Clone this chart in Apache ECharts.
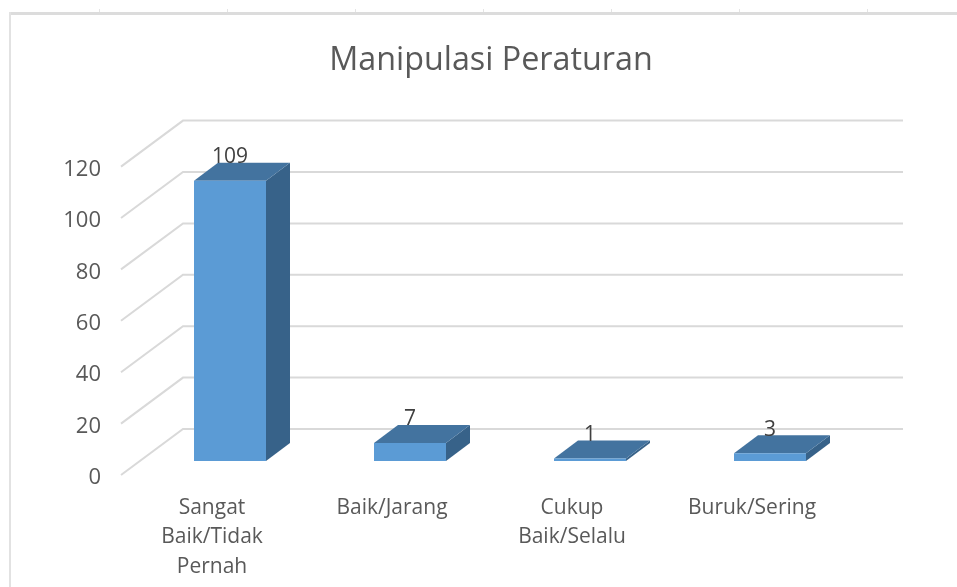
<!DOCTYPE html>
<html>
<head>
<meta charset="utf-8">
<style>html,body{margin:0;padding:0;background:#fff}#c{width:957px;height:587px}</style>
<script src="https://cdn.jsdelivr.net/npm/echarts@6/dist/echarts.min.js"></script>
</head>
<body>
<div id="c"></div>
<script>
var titleText = 'Manipulasi Peraturan';
var categories = ['Sangat\nBaik/Tidak\nPernah', 'Baik/Jarang', 'Cukup\nBaik/Selalu', 'Buruk/Sering'];
var values = [109, 7, 1, 3];
var yTicks = [0, 20, 40, 60, 80, 100, 120];

var FONT = '"Open Sans", sans-serif';
var TEXT = '#595959';
var GRID = '#d9d9d9';

var chart = echarts.init(document.getElementById('c'), null, {renderer: 'canvas'});

function renderWall(params, api) {
  var cs = params.coordSys;
  var y = api.coord([0, api.value(1)])[1];
  return {
    type: 'polyline',
    silent: true,
    shape: {points: [[cs.x - 19, y + 14], [cs.x + 43, y - 32], [cs.x + 43 + cs.width, y - 32]]},
    style: {fill: null, stroke: GRID, lineWidth: 2}
  };
}

function renderBar(params, api) {
  var top = api.coord([api.value(0), api.value(1)]);
  var base = api.coord([api.value(0), 0]);
  var w = api.size([1, 0])[0] * 0.4;
  var l = top[0] - w / 2, r = top[0] + w / 2;
  var dx = 24, dy = 18;
  return {
    type: 'group',
    children: [
      {type: 'polygon', shape: {points: [[r, top[1]], [r + dx, top[1] - dy], [r + dx, base[1] - dy], [r, base[1]]]},
        style: {fill: '#376289'}},
      {type: 'polygon', shape: {points: [[l, top[1]], [l + dx, top[1] - dy], [r + dx, top[1] - dy], [r, top[1]]]},
        style: {fill: '#43739F'}},
      {type: 'rect', shape: {x: l, y: top[1], width: w, height: base[1] - top[1]},
        style: {fill: '#5B9BD5'}},
      {type: 'text', z2: 10, style: {
        x: top[0], y: top[1] - 23.5, text: String(api.value(1)),
        fill: '#404040', font: '21px ' + FONT, align: 'center', verticalAlign: 'middle'
      }}
    ]
  };
}

chart.setOption({
  animation: false,
  backgroundColor: '#ffffff',
  title: {
    text: titleText, left: 486, top: 40, textAlign: 'center',
    textStyle: {fontFamily: FONT, fontSize: 32.3, fontWeight: 'normal', color: TEXT}
  },
  grid: [
    {left: 140, width: 720, top: 152.6, height: 308.4},
    {left: 122, width: 720, top: 169.5, height: 308.4}
  ],
  xAxis: [
    {gridIndex: 0, type: 'category', data: categories, show: false},
    {gridIndex: 1, type: 'category', data: categories,
      axisLine: {show: false}, axisTick: {show: false},
      axisLabel: {interval: 0, margin: 15, lineHeight: 29.5, color: TEXT, fontFamily: FONT, fontSize: 21}}
  ],
  yAxis: [
    {gridIndex: 0, type: 'value', min: 0, max: 120, interval: 20, show: false},
    {gridIndex: 1, type: 'value', min: 0, max: 120, interval: 20,
      axisLine: {show: false}, axisTick: {show: false}, splitLine: {show: false},
      axisLabel: {margin: 21, color: TEXT, fontFamily: FONT, fontSize: 22}}
  ],
  graphic: [
    {type: 'rect', shape: {x: 10, y: 12, width: 947, height: 3}, style: {fill: '#dcdcdc'}},
    {type: 'rect', shape: {x: 9, y: 12, width: 2, height: 575}, style: {fill: '#e2e2e2'}},
    {type: 'group', children: [99, 227, 355, 483, 611, 739, 867].map(function (x) {
      return {type: 'rect', shape: {x: x, y: 9, width: 1, height: 3}, style: {fill: '#e4e4e4'}};
    })}
  ],
  series: [
    {type: 'custom', xAxisIndex: 0, yAxisIndex: 0, clip: false, z: 1, silent: true,
      data: yTicks.map(function (t) { return [0, t]; }), renderItem: renderWall},
    {type: 'custom', xAxisIndex: 0, yAxisIndex: 0, clip: false, z: 2,
      data: values.map(function (v, i) { return [i, v]; }), renderItem: renderBar}
  ]
});
</script>
</body>
</html>
